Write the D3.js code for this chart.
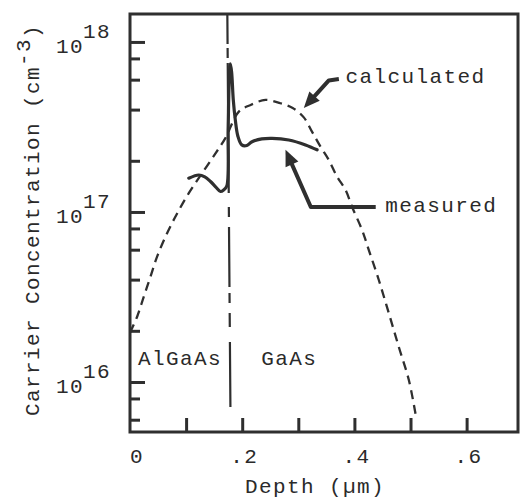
<!DOCTYPE html>
<html>
<head>
<meta charset="utf-8">
<script src="https://cdn.jsdelivr.net/npm/d3@7"></script>
<style>
  body { margin: 0; background: #fff; }
  text { font-family: 'Liberation Mono', 'Courier New', monospace; font-size: 21px; letter-spacing: 1.4px; fill: #2a2a2a; }
</style>
</head>
<body>
<svg width="523" height="499"></svg>
<script>
// calculated profile (dashed), depth in um, concentration in cm^-3
const calcDepth = [0, 0.0127, 0.0246, 0.0365, 0.0483, 0.0661, 0.084, 0.1048, 0.1285, 0.1524, 0.170,
  0.194, 0.215, 0.2415, 0.268, 0.290, 0.3098, 0.3246, 0.3396, 0.3544, 0.3692, 0.3841, 0.3959, 0.4137,
  0.4257, 0.4435, 0.4613, 0.4791, 0.4969, 0.5089];
const calcConc = [1.95e16, 2.42e16, 3.18e16, 4.16e16, 5.46e16, 7.5e16, 9.8e16, 1.29e17, 1.69e17, 2.21e17, 2.72e17,
  3.89e17, 4.26e17, 4.56e17, 4.36e17, 4.09e17, 3.6e17, 2.96e17, 2.42e17, 2.02e17, 1.61e17, 1.35e17, 1.07e17, 7.83e16,
  5.97e16, 3.98e16, 2.54e16, 1.61e16, 1.03e16, 6.5e15];

// measured profile (solid)
const measDepth = [0.1048, 0.1226, 0.1333, 0.1435, 0.153, 0.1613, 0.1672, 0.1725, 0.1749, 0.1766, 0.1788,
  0.1811, 0.1841, 0.1877, 0.1922, 0.1993, 0.2082, 0.2176, 0.2349, 0.2533, 0.283, 0.3128, 0.3335];
const measConc = [1.58e17, 1.65e17, 1.61e17, 1.51e17, 1.40e17, 1.32e17, 1.35e17, 1.42e17, 3.03e17, 5.58e17, 7.43e17,
  6.67e17, 4.56e17, 3.48e17, 2.80e17, 2.48e17, 2.46e17, 2.59e17, 2.69e17, 2.71e17, 2.65e17, 2.48e17, 2.32e17];

// AlGaAs / GaAs interface (top, bottom)
const interfaceDepth = [0.1735, 0.179];
const interfaceConc = [1.46e18, 7.1e15];

const xTicks = [0.1, 0.2, 0.3, 0.4, 0.5, 0.6];
const xLabelValues = [0, 0.2, 0.4, 0.6];
const xLabels = ["0", ".2", ".4", ".6"];
const yMajor = [1e16, 1e17, 1e18];
const yMajorExp = ["16", "17", "18"];
const yMinor = [6e15, 8e15, 2e16, 4e16, 6e16, 8e16, 2e17, 4e17, 6e17, 8e17];

const labels = [
  { text: "calculated", depth: 0.384, conc: 5.74e17 },
  { text: "measured", depth: 0.455, conc: 1.0e17 },
  { text: "AlGaAs", depth: 0.0144, conc: 1.26e16 },
  { text: "GaAs", depth: 0.234, conc: 1.26e16 }
];
const arrows = [
  { depth: [0.3723, 0.3544, 0.3098], conc: [6.05e17, 5.94e17, 4.09e17] },
  { depth: [0.438, 0.3223, 0.2772], conc: [1.07e17, 1.07e17, 2.32e17] }
];

const mLeft = 130, mRight = 518, mTop = 14, mBottom = 432;
const ink = "#2f2f2f";

const svg = d3.select("svg");
const x = d3.scaleLinear().domain([0, 0.6916]).range([mLeft, mRight]);
const y = d3.scaleLog().domain([5.08e15, 1.46e18]).range([mBottom, mTop]);

// frame
svg.append("rect")
  .attr("x", mLeft).attr("y", mTop)
  .attr("width", mRight - mLeft).attr("height", mBottom - mTop)
  .attr("fill", "none").attr("stroke", ink).attr("stroke-width", 3);

// inward ticks
const tickAxis = (g) => g.call(s => s.select(".domain").remove())
  .call(s => s.selectAll("line").attr("stroke", ink).attr("stroke-width", 3));

svg.append("g").attr("transform", `translate(${mLeft},0)`)
  .call(d3.axisLeft(y).tickValues(yMajor).tickSize(-15).tickFormat(""))
  .call(tickAxis);
svg.append("g").attr("transform", `translate(${mLeft},0)`)
  .call(d3.axisLeft(y).tickValues(yMinor).tickSize(-10).tickFormat(""))
  .call(tickAxis);
svg.append("g").attr("transform", `translate(0,${mBottom})`)
  .call(d3.axisBottom(x).tickValues(xTicks).tickSize(-14).tickFormat(""))
  .call(tickAxis);

// x tick labels
svg.append("g").selectAll("text")
  .data(xLabelValues)
  .join("text")
  .attr("x", (d, i) => x(d) + (i == 0 ? 7 : 2))
  .attr("y", 463)
  .attr("text-anchor", "middle")
  .text((d, i) => xLabels[i]);

// y tick labels 10^n
const yl = svg.append("g").selectAll("g")
  .data(yMajor)
  .join("g");
yl.append("text")
  .attr("x", 56).attr("y", d => y(d) + 11)
  .text("10");
yl.append("text")
  .attr("x", 83).attr("y", d => y(d) - 4)
  .text((d, i) => yMajorExp[i]);

// axis titles
svg.append("text")
  .attr("x", 315).attr("y", 493)
  .attr("text-anchor", "middle")
  .text("Depth (\u00b5m)");

const yt = svg.append("text")
  .attr("transform", "translate(39,220) rotate(-90)")
  .attr("text-anchor", "middle");
yt.append("tspan").text("Carrier Concentration (cm");
yt.append("tspan").attr("dy", -9).text("-3");
yt.append("tspan").attr("dy", 9).text(")");

// interface line
svg.append("line")
  .attr("x1", x(interfaceDepth[0])).attr("y1", y(interfaceConc[0]))
  .attr("x2", x(interfaceDepth[1])).attr("y2", y(interfaceConc[1]))
  .attr("stroke", ink).attr("stroke-width", 2.2)
  .attr("stroke-dasharray", "30,4,10,5,130,14,10,10,60,6,10,10,14,15,65");

// calculated curve
const line = d3.line()
  .x(d => x(d[0])).y(d => y(d[1]))
  .curve(d3.curveCatmullRom.alpha(0.5));

svg.append("path")
  .datum(calcDepth.map((d, i) => [d, calcConc[i]]))
  .attr("d", line)
  .attr("fill", "none").attr("stroke", ink)
  .attr("stroke-width", 2.3).attr("stroke-dasharray", "9,6");

// measured curve
svg.append("path")
  .datum(measDepth.map((d, i) => [d, measConc[i]]))
  .attr("d", line)
  .attr("fill", "none").attr("stroke", ink)
  .attr("stroke-width", 3.2).attr("stroke-linejoin", "round").attr("stroke-linecap", "round");

// annotation labels
svg.append("g").selectAll("text")
  .data(labels)
  .join("text")
  .attr("x", d => x(d.depth)).attr("y", d => y(d.conc))
  .text(d => d.text);

// arrows
arrows.forEach(a => {
  const pts = a.depth.map((d, i) => [x(d), y(a.conc[i])]);
  const n = pts.length;
  const tip = pts[n - 1], prev = pts[n - 2];
  const ang = Math.atan2(tip[1] - prev[1], tip[0] - prev[0]);
  const len = 16, half = 7;
  const bx = tip[0] - len * Math.cos(ang), by = tip[1] - len * Math.sin(ang);
  const shaft = pts.slice(0, n - 1).concat([[bx + 2 * Math.cos(ang), by + 2 * Math.sin(ang)]]);
  svg.append("path")
    .attr("d", d3.line()(shaft))
    .attr("fill", "none").attr("stroke", ink)
    .attr("stroke-width", 4).attr("stroke-linejoin", "round");
  svg.append("path")
    .attr("d", d3.line()([
      tip,
      [bx + half * Math.sin(ang), by - half * Math.cos(ang)],
      [bx - half * Math.sin(ang), by + half * Math.cos(ang)]
    ]) + "Z")
    .attr("fill", ink);
});
</script>
</body>
</html>
